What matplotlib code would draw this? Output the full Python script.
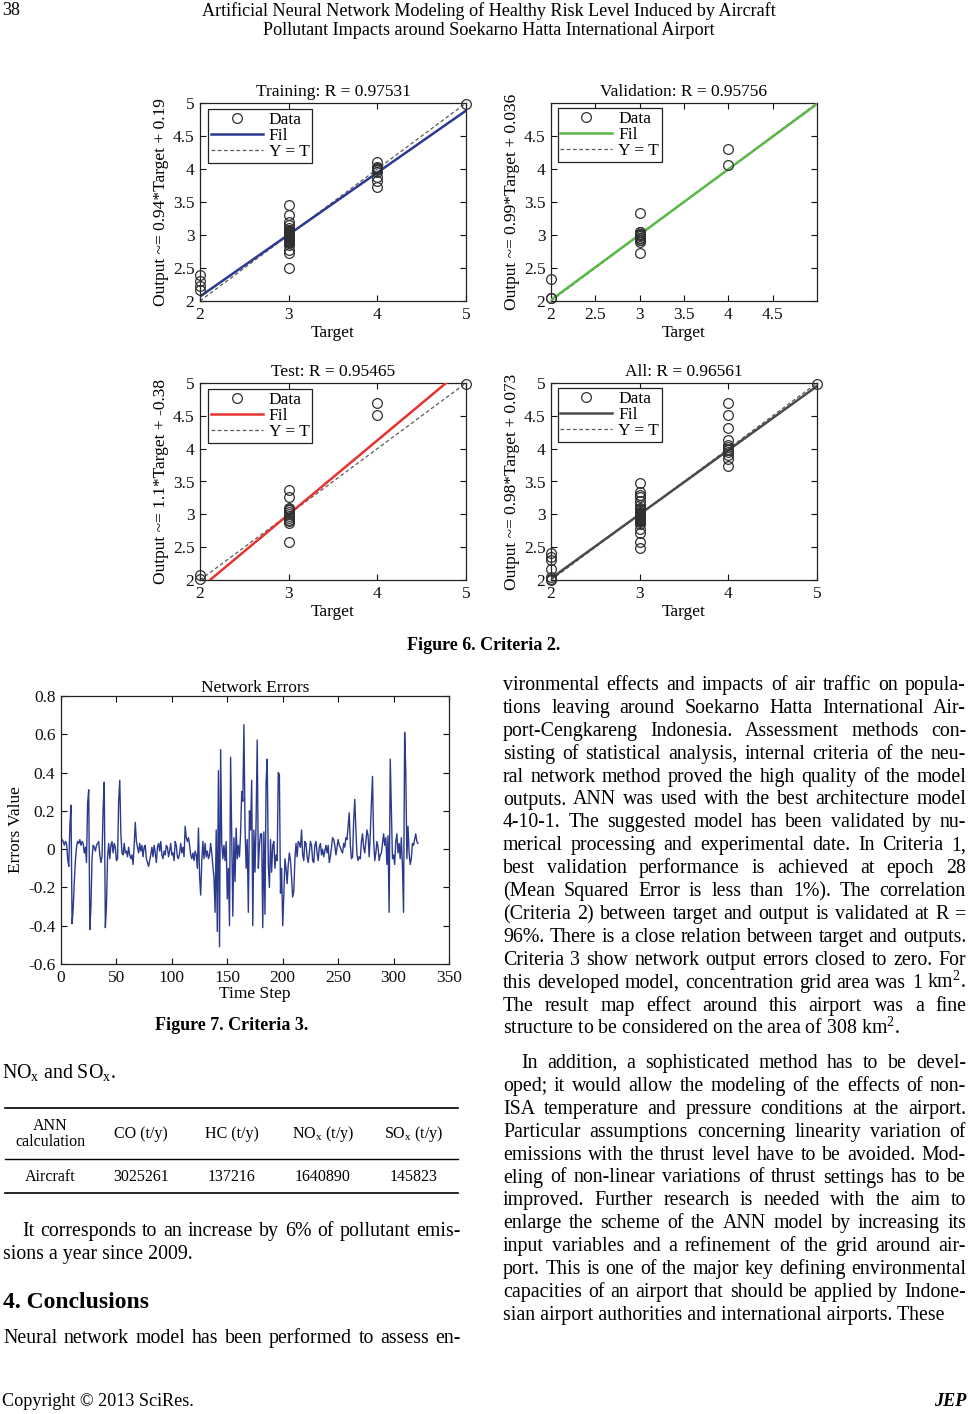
import matplotlib
matplotlib.use('Agg')
import matplotlib.pyplot as plt
from matplotlib.lines import Line2D
import numpy as np

W, H = 969, 1414
SERIF = ['Liberation Serif', 'DejaVu Serif']
plt.rcParams['font.family'] = SERIF
plt.rcParams['mathtext.fontset'] = 'custom'
plt.rcParams['mathtext.rm'] = 'Liberation Serif'
plt.rcParams['mathtext.it'] = 'Liberation Serif:italic'
plt.rcParams['mathtext.bf'] = 'Liberation Serif:bold'

# ---------------- data ----------------
# outputs grouped by target value (2, 3, 4, 5)
train_out_2 = [2.17, 2.23, 2.31, 2.39]
train_out_3 = [2.50, 2.72, 2.78, 2.85, 2.88, 2.89, 2.90, 2.91, 2.92, 2.93, 2.94, 2.95,
               2.96, 2.97, 2.98, 2.99, 3.00, 3.01, 3.02, 3.03, 3.04, 3.05, 3.06, 3.07,
               3.08, 3.10, 3.15, 3.20, 3.30, 3.46]
train_out_4 = [3.72, 3.82, 3.88, 3.95, 3.99, 4.00, 4.01, 4.03, 4.10]
train_out_5 = [4.98]

val_out_2 = [2.04, 2.05, 2.33]
val_out_3 = [2.72, 2.90, 2.92, 2.93, 2.95, 2.96, 2.98, 3.00, 3.01, 3.02, 3.04, 3.05, 3.33]
val_out_4 = [4.06, 4.30]
val_out_5 = []

test_out_2 = [2.02, 2.07]
test_out_3 = [2.58, 2.87, 2.90, 2.92, 2.95, 2.98, 3.00, 3.03, 3.06, 3.08, 3.10, 3.27, 3.37]
test_out_4 = [4.51, 4.70]
test_out_5 = [4.99]

all_out_2 = [2.00, 2.02, 2.05, 2.17, 2.31, 2.35, 2.41]
all_out_3 = [2.48, 2.58, 2.72, 2.78, 2.85, 2.88, 2.90, 2.91, 2.92, 2.93, 2.94, 2.95,
             2.96, 2.97, 2.98, 2.99, 3.00, 3.01, 3.02, 3.03, 3.04, 3.06, 3.08, 3.10,
             3.14, 3.20, 3.27, 3.30, 3.34, 3.47]
all_out_4 = [3.74, 3.84, 3.90, 3.95, 3.98, 4.00, 4.02, 4.05, 4.13, 4.31, 4.51, 4.70]
all_out_5 = [4.99]

target_levels = [2, 3, 4, 5]
fit_slope = [0.9389, 0.99, 1.1266, 0.976]
fit_intercept = [0.19, 0.036, -0.38, 0.073]
panel_titles = ['Training: R = 0.97531', 'Validation: R = 0.95756',
                'Test: R = 0.95465', 'All: R = 0.96561']
panel_ylabels = ['Output ~= 0.94*Target + 0.19', 'Output ~= 0.99*Target + 0.036',
                 'Output ~= 1.1*Target + -0.38', 'Output ~= 0.98*Target + 0.073']
ticks_full = [2, 3, 4, 5]
ticks_full_labels = ['2', '3', '4', '5']
ticks_half = [2, 2.5, 3, 3.5, 4, 4.5, 5]
ticks_half_labels = ['2', '2.5', '3', '3.5', '4', '4.5', '5']
ticks_val = [2, 2.5, 3, 3.5, 4, 4.5]
ticks_val_labels = ['2', '2.5', '3', '3.5', '4', '4.5']

errors = [
    0.05, 0.04, 0.02, 0.04, 0.03, -0.05, -0.09, 0.12, 0.23, -0.39,
    -0.31, -0.17, -0.06, 0.01, 0.04, 0.03, 0.05, 0.02, 0.04, 0.03,
    -0.02, 0.01, -0.07, 0.24, 0.31, -0.42, -0.30, -0.05, 0.02, 0.01,
    -0.01, 0.02, 0.03, 0.04, -0.03, -0.07, -0.04, 0.21, 0.35, -0.41,
    -0.30, -0.04, 0.03, -0.05, 0.02, 0.04, -0.02, 0.03, 0.01, -0.06,
    -0.05, 0.25, 0.36, 0.08, -0.02, -0.03, 0.03, -0.02, -0.01, -0.04,
    0.01, -0.03, -0.05, -0.03, -0.08, 0.02, 0.14, 0.04, 0.01, -0.02,
    0.03, -0.01, 0.02, -0.04, 0.01, 0.02, -0.05, -0.07, -0.09, -0.06,
    -0.03, 0.01, -0.04, 0.02, -0.02, -0.07, 0.01, 0.03, -0.01, 0.04,
    -0.03, -0.05, -0.01, -0.03, 0.02, 0.01, -0.04, -0.01, 0.03, -0.03,
    -0.02, -0.06, 0.04, 0.02, -0.04, -0.05, -0.02, 0.03, -0.02, 0.01,
    -0.04, 0.12, 0.06, 0.04, 0.06, 0.02, -0.03, -0.05, -0.02, -0.06,
    -0.01, -0.03, -0.10, 0.11, -0.14, -0.24, -0.06, 0.04, -0.05, 0.03,
    -0.04, -0.01, -0.05, -0.03, 0.03, -0.02, -0.09, -0.15, -0.33, 0.10,
    -0.43, 0.41, -0.51, 0.52, 0.03, -0.05, 0.02, -0.06, 0.04, -0.26,
    -0.10, -0.40, 0.48, 0.08, -0.35, 0.06, -0.17, 0.11, -0.05, 0.02,
    -0.04, 0.08, 0.30, 0.25, 0.65, 0.12, -0.10, 0.05, -0.33, 0.20,
    0.10, 0.36, -0.40, 0.10, -0.12, 0.15, 0.57, -0.10, 0.02, 0.08,
    0.08, -0.41, 0.09, -0.34, 0.35, 0.47, -0.08, -0.20, 0.05, -0.12,
    0.02, 0.04, -0.10, -0.03, -0.06, 0.40, 0.39, -0.23, -0.10, -0.40,
    -0.24, -0.05, -0.10, -0.18, -0.08, -0.02, -0.06, -0.15, -0.25, -0.22,
    -0.05, 0.03, -0.04, 0.04, 0.03, 0.01, 0.10, -0.03, -0.06, 0.04,
    0.03, -0.04, -0.07, -0.02, 0.04, 0.02, -0.06, -0.07, 0.02, 0.04,
    -0.02, -0.06, 0.01, 0.03, -0.03, 0.00, -0.04, -0.01, 0.02, -0.02,
    0.02, -0.07, -0.04, 0.01, 0.06, 0.05, 0.02, -0.03, 0.01, 0.05,
    0.02, 0.01, -0.01, -0.02, 0.03, 0.01, 0.06, 0.05, 0.12, 0.19,
    0.02, -0.05, -0.04, 0.15, 0.26, 0.10, -0.03, -0.06, -0.04, -0.05,
    0.04, 0.08, 0.01, -0.02, 0.04, 0.10, 0.07, -0.04, 0.08, 0.24,
    0.38, 0.05, -0.06, -0.02, 0.04, 0.01, -0.06, -0.03, -0.02, 0.03,
    0.08, 0.02, 0.06, -0.08, 0.07, -0.33, 0.47, 0.21, -0.05, -0.03,
    -0.08, 0.04, 0.08, -0.02, 0.03, -0.05, 0.06, -0.09, -0.33, 0.61,
    0.41, -0.05, 0.12, -0.02, -0.08, -0.05, 0.03, 0.02, 0.05, 0.08,
    0.04, 0.03]
err_xticks = [0, 50, 100, 150, 200, 250, 300, 350]
err_xticklabels = ['0', '50', '100', '150', '200', '250', '300', '350']
err_yticks = [-0.6, -0.4, -0.2, 0, 0.2, 0.4, 0.6, 0.8]
err_yticklabels = ['-0.6', '-0.4', '-0.2', '0', '0.2', '0.4', '0.6', '0.8']

table_header = ['ANN\ncalculation', 'CO (t/y)', 'HC (t/y)',
                'NO$_\\mathrm{x}$ (t/y)', 'SO$_\\mathrm{x}$ (t/y)']
table_row = ['Aircraft', '3025261', '137216', '1640890', '145823']

right_par1 = [
    "vironmental effects and impacts of air traffic on popula-",
    "tions leaving around Soekarno Hatta International Air-",
    "port-Cengkareng Indonesia. Assessment methods con-",
    "sisting of statistical analysis, internal criteria of the neu-",
    "ral network method proved the high quality of the model",
    "outputs. ANN was used with the best architecture model",
    "4-10-1. The suggested model has been validated by nu-",
    "merical processing and experimental date. In Criteria 1,",
    "best validation performance is achieved at epoch 28",
    "(Mean Squared Error is less than 1%). The correlation",
    "(Criteria 2) between target and output is validated at R =",
    "96%. There is a close relation between target and outputs.",
    "Criteria 3 show network output errors closed to zero. For",
    "this developed model, concentration grid area was 1 km$^2$.",
    "The result map effect around this airport was a fine",
    "structure to be considered on the area of 308 km$^2$.",
]
right_par2 = [
    "In addition, a sophisticated method has to be devel-",
    "oped; it would allow the modeling of the effects of non-",
    "ISA temperature and pressure conditions at the airport.",
    "Particular assumptions concerning linearity variation of",
    "emissions with the thrust level have to be avoided. Mod-",
    "eling of non-linear variations of thrust settings has to be",
    "improved. Further research is needed with the aim to",
    "enlarge the scheme of the ANN model by increasing its",
    "input variables and a refinement of the grid around air-",
    "port. This is one of the major key defining environmental",
    "capacities of an airport that should be applied by Indone-",
    "sian airport authorities and international airports. These",
]

# ---------------- figure ----------------
fig = plt.figure(figsize=(W / 100, H / 100), dpi=100)
fig.patch.set_facecolor('white')


def fx(x):
    return x / W


def fy(y):
    return 1 - y / H


def add_ax(x0, y0, x1, y1):
    return fig.add_axes([x0 / W, 1 - y1 / H, (x1 - x0) / W, (y1 - y0) / H])


def style_ax(ax, size=12.5):
    for s in ax.spines.values():
        s.set_linewidth(0.9)
        s.set_color('#222222')
    ax.tick_params(direction='in', length=4, width=0.8, top=True, right=True,
                   labelsize=size, pad=4, colors='#111111')


def assemble(groups):
    tx, ty = [], []
    for lvl, g in zip(target_levels, groups):
        tx += [lvl] * len(g)
        ty += list(g)
    return tx, ty


def reg_plot(box, title, groups, slope, intercept, color, ylabel,
             xt, xtl, yt, ytl, anchor):
    ax = add_ax(*box)
    ax.set_xlim(2, 5)
    ax.set_ylim(2, 5)
    target, output = assemble(groups)
    xs = np.array([2.0, 5.0])
    ax.plot(target, output, 'o', mfc='none', mec='#303030', ms=7, mew=0.9,
            clip_on=False, label='Data', zorder=4)
    ax.plot(xs, slope * xs + intercept, '-', color=color, lw=1.8, label='Fil', zorder=3)
    ax.plot(xs, xs, '--', color='#5a5a5a', lw=0.9, dashes=(3, 2), label='Y = T', zorder=2)
    ax.set_xticks(xt)
    ax.set_xticklabels(xtl)
    ax.set_yticks(yt)
    ax.set_yticklabels(ytl)
    style_ax(ax)
    ax.set_title(title, fontsize=12.5, pad=5)
    ax.set_xlabel('Target', fontsize=12.5, labelpad=2)
    ax.set_ylabel(ylabel, fontsize=12.5, labelpad=3)
    leg = ax.legend(loc='upper left', bbox_to_anchor=anchor, borderaxespad=0,
                    fancybox=False, edgecolor='#222222', framealpha=1, fontsize=12.5,
                    handlelength=3.0, handletextpad=0.35, labelspacing=0.0,
                    borderpad=0.15, numpoints=1)
    leg.get_frame().set_linewidth(0.9)
    return ax


colors = ['#2b3990', '#5bb848', '#e3342f', '#4a4a4a']
boxes = [(200, 103, 466, 301), (551, 103, 817, 301),
         (200, 383, 466, 580), (551, 383, 817, 580)]
groups = [[train_out_2, train_out_3, train_out_4, train_out_5],
          [val_out_2, val_out_3, val_out_4, val_out_5],
          [test_out_2, test_out_3, test_out_4, test_out_5],
          [all_out_2, all_out_3, all_out_4, all_out_5]]
xts = [(ticks_full, ticks_full_labels), (ticks_val, ticks_val_labels),
       (ticks_full, ticks_full_labels), (ticks_full, ticks_full_labels)]
yts = [(ticks_half, ticks_half_labels), (ticks_val, ticks_val_labels),
       (ticks_half, ticks_half_labels), (ticks_half, ticks_half_labels)]
anchors = [(0.03, 0.97), (0.025, 0.975), (0.03, 0.97), (0.025, 0.975)]
for i in range(4):
    reg_plot(boxes[i], panel_titles[i], groups[i], fit_slope[i],
             fit_intercept[i], colors[i], panel_ylabels[i], xts[i][0], xts[i][1],
             yts[i][0], yts[i][1], anchors[i])

# Network errors
ax = add_ax(61, 696, 449, 964)
steps = np.arange(1, len(errors) + 1)
ax.plot(steps, errors, color='#2c3a8e', lw=1.0)
ax.set_xlim(0, 350)
ax.set_ylim(-0.6, 0.8)
ax.set_xticks(err_xticks)
ax.set_xticklabels(err_xticklabels)
ax.set_yticks(err_yticks)
ax.set_yticklabels(err_yticklabels)
style_ax(ax, 12.5)
ax.set_title('Network Errors', fontsize=12.5, pad=3)
ax.set_xlabel('Time Step', fontsize=12.5, labelpad=0)
ax.set_ylabel('Errors Value', fontsize=12.5, labelpad=3)

# ---------------- text ----------------
renderer = fig.canvas.get_renderer()
BODY = 14.3


def text(x, y, s, size=BODY, ha='left', **kw):
    return fig.text(fx(x), fy(y), s, fontsize=size, ha=ha, va='baseline', **kw)


def justify(s, x0, x1, y, size=BODY, **kw):
    words = s.split(' ')
    arts = [text(x0, y, w, size, **kw) for w in words]
    widths = [a.get_window_extent(renderer).width for a in arts]
    gap = (x1 - x0 - sum(widths)) / max(len(words) - 1, 1)
    x = x0
    for a, w in zip(arts, widths):
        a.set_x(fx(x))
        x += w + gap


def paragraph(lines, x0, x1, y0, dy, indent=0, last_plain=True):
    for i, s in enumerate(lines):
        xs = x0 + (indent if i == 0 else 0)
        y = y0 + i * dy
        if last_plain and i == len(lines) - 1:
            text(xs, y, s)
        else:
            justify(s, xs, x1, y)


# header
text(2, 15, '38', size=13)
text(489, 16, 'Artificial Neural Network Modeling of Healthy Risk Level Induced by Aircraft',
     size=13.1, ha='center')
text(489, 35, 'Pollutant Impacts around Soekarno Hatta International Airport',
     size=13.1, ha='center')

# captions
text(484, 650, 'Figure 6. Criteria 2.', size=13, ha='center', weight='bold')
text(232, 1030, 'Figure 7. Criteria 3.', size=13, ha='center', weight='bold')

# left column
text(2, 1078, 'NO$_\\mathrm{x}$ and SO$_\\mathrm{x}$.')
for yy, lw in [(1108, 1.2), (1159, 1.0), (1193, 1.2)]:
    fig.add_artist(Line2D([fx(5), fx(458)], [fy(yy), fy(yy)],
                          transform=fig.transFigure, color='black', lw=lw))
col_x = [50, 141, 232, 323, 414]
for cx, h, v in zip(col_x, table_header, table_row):
    fig.text(fx(cx), fy(1134), h, fontsize=11.5, ha='center', va='center',
             linespacing=1.05)
    text(cx, 1181, v, size=11.5, ha='center')

justify('It corresponds to an increase by 6% of pollutant emis-', 22, 461, 1236)
text(3, 1259, 'sions a year since 2009.')
text(3, 1308, '4. Conclusions', size=17, weight='bold')
justify('Neural network model has been performed to assess en-', 3, 461, 1343)

# right column
paragraph(right_par1, 503, 966, 690, 22.9)
paragraph(right_par2, 503, 966, 1068, 22.9, indent=18)

# footer
text(2, 1406, 'Copyright \u00a9 2013 SciRes.', size=13.1)
text(966, 1406, 'JEP', size=13.1, ha='right', weight='bold', style='italic')

fig.savefig('out.png', dpi=100, facecolor='white')
